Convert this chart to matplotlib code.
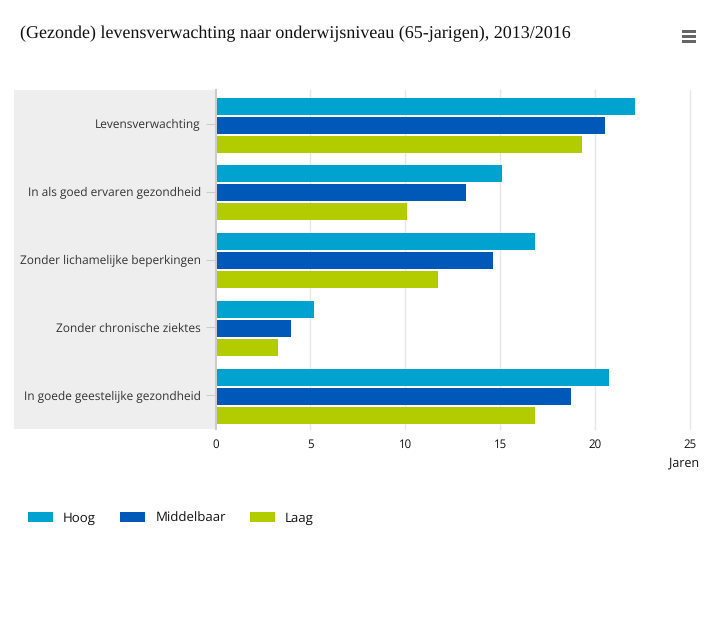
"""
(Gezonde) levensverwachting naar onderwijsniveau, horizontal grouped bars
"""

import numpy as np
import matplotlib as mpl
mpl.use('Agg')
import matplotlib.pyplot as plt
from matplotlib.patches import Rectangle

W, H = 725, 625

CATEGORIES = [
    'Levensverwachting',
    'In als goed ervaren gezondheid',
    'Zonder lichamelijke beperkingen',
    'Zonder chronische ziektes',
    'In goede geestelijke gezondheid',
]
HOOG = [22.1, 15.1, 16.8, 5.2, 20.7]
MIDDELBAAR = [20.5, 13.2, 14.6, 4.0, 18.7]
LAAG = [19.3, 10.1, 11.7, 3.3, 16.8]
SERIES_NAMES = ['Hoog', 'Middelbaar', 'Laag']
X_TICKS = [0, 5, 10, 15, 20, 25]

COLORS = ['#00A3D0', '#0058B8', '#B2CC00']

mpl.rcParams.update({
    'font.family': ['Open Sans', 'DejaVu Sans'],
    'text.hinting': 'no_hinting',  # keeps text widths linear with font size
    'figure.dpi': 100,
    'savefig.dpi': 100,
    'figure.facecolor': 'white',
})


def px_rect(x0, y0, x1, y1):
    """Pixel box (from top left) to figure fraction rectangle."""
    return [x0 / W, 1 - y1 / H, (x1 - x0) / W, (y1 - y0) / H]


fig = plt.figure(figsize=(W / 100, H / 100))

# grey panel behind the category labels
x, y, w, h = px_rect(14, 90, 215, 429)
fig.add_artist(Rectangle((x, y), w, h, transform=fig.transFigure,
                         facecolor='#EEEEEE', edgecolor='none', zorder=-1))

ax = fig.add_axes(px_rect(215.4, 90, 690.3, 429))
ax.set_facecolor('none')
ax.set_xlim(0, 25)
ax.set_ylim(len(CATEGORIES) - 0.5, -0.5)

# spine position has to come before the ticks: it resets the tick labels
for side in ['top', 'right', 'bottom']:
    ax.spines[side].set_visible(False)
ax.spines['left'].set_color('#CCCCCC')
ax.spines['left'].set_linewidth(1.44)
ax.spines['left'].set_position(('outward', -0.5))
ax.spines['left'].set_zorder(4)

pos = np.arange(len(CATEGORIES))
bar_h = 0.252
step = 0.28
bar_shift = 0.018  # bars sit slightly below the tick centre
bars = []
for i, (vals, name) in enumerate(zip([HOOG, MIDDELBAAR, LAAG], SERIES_NAMES)):
    b = ax.barh(pos + (i - 1) * step + bar_shift, vals, height=bar_h,
                color=COLORS[i], label=name, zorder=3)
    bars.append(b)

ax.set_xticks(X_TICKS)
ax.set_yticks(pos)
ax.set_yticklabels(CATEGORIES, fontsize=8.55, color='#333333')
ax.tick_params(axis='y', length=7, width=0.8, color='#CCCCCC', pad=4)
ax.tick_params(axis='x', length=0, pad=7, labelsize=8.3, labelcolor='#111111')
ax.grid(True, axis='x', color='#E6E6E6', linewidth=1, zorder=0)
for line in ax.get_xgridlines():
    line.set_clip_on(False)
ax.set_axisbelow(True)

fig.text(20 / W, 1 - 33.5 / H, '(Gezonde) levensverwachting naar onderwijsniveau (65-jarigen), 2013/2016',
         family=['Liberation Serif'], fontsize=12.95, color='#111111', va='center')
fig.text(699 / W, 1 - 463.5 / H, 'Jaren', fontsize=9, color='#111111', ha='right', va='center')

# menu icon
for top in [30, 35, 40]:
    x, y, w, h = px_rect(682, top, 696, top + 3.3)
    fig.add_artist(Rectangle((x, y), w, h, transform=fig.transFigure,
                             facecolor='#666666', edgecolor='none'))

fig.legend(handles=bars, labels=SERIES_NAMES, loc='center left',
           bbox_to_anchor=(28 / W, 1 - 518.5 / H), ncol=3, frameon=False,
           fontsize=9.5, handlelength=1.9, handleheight=0.76, handletextpad=0.76,
           columnspacing=1.83, labelcolor='#111111', borderpad=0, borderaxespad=0)

fig.savefig('out.png')
